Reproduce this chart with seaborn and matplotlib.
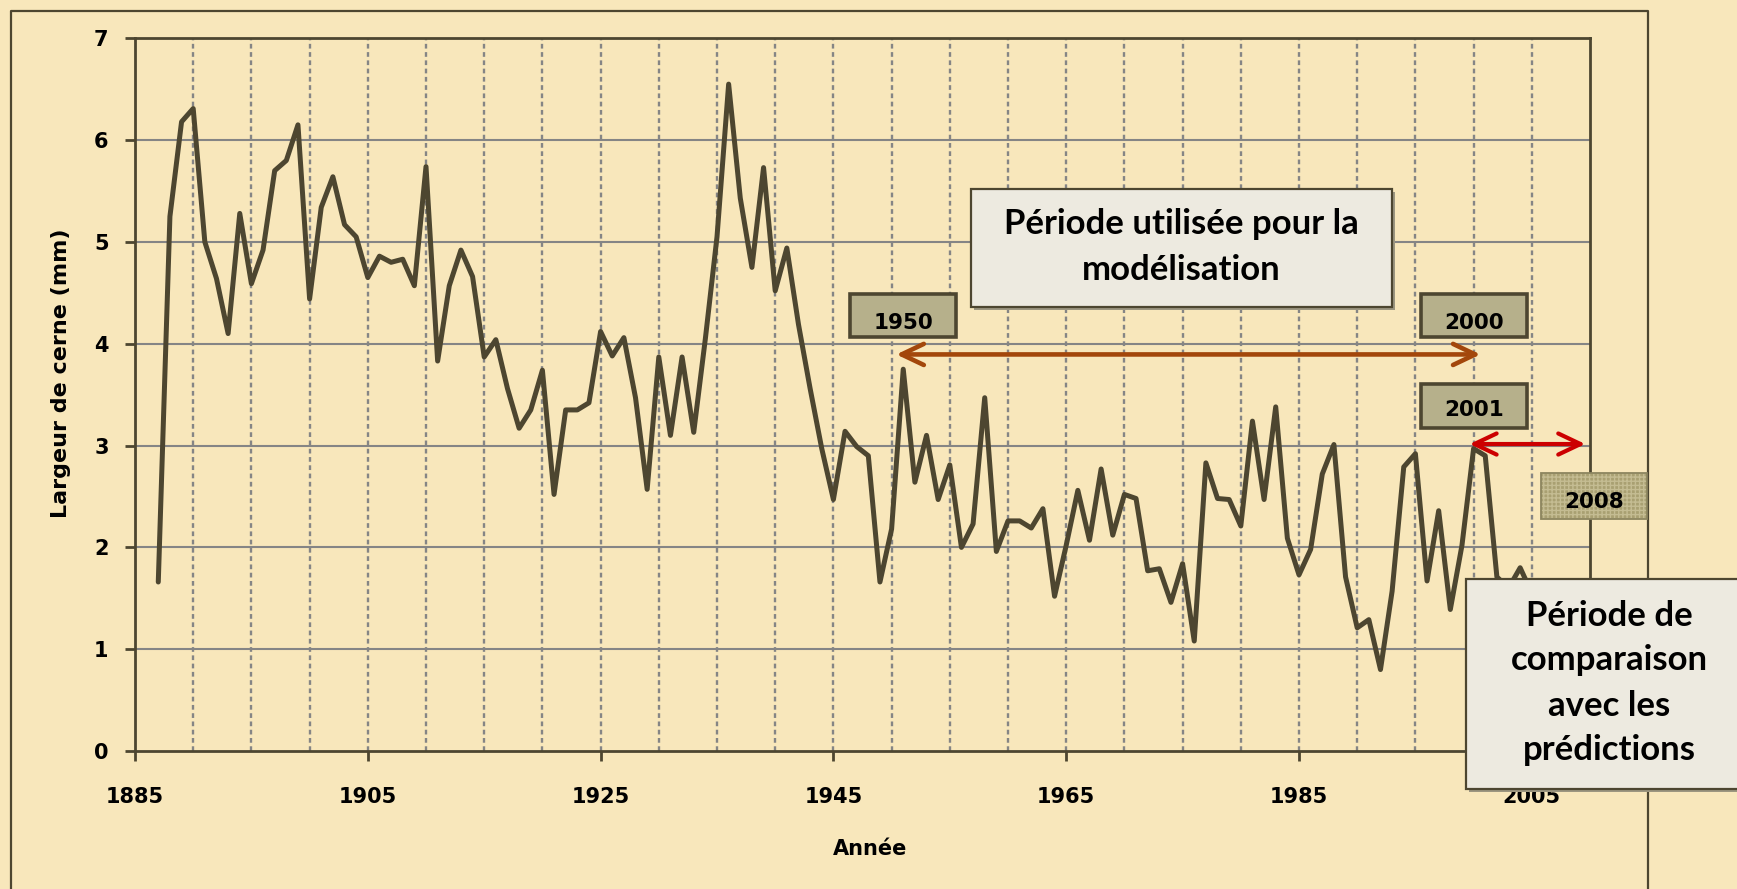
import numpy as np
import pandas as pd
import seaborn as sns
import matplotlib.pyplot as plt
from matplotlib import font_manager
from matplotlib.patches import Rectangle

# ring width series
years = list(range(1887, 2006))
largeur = [
    1.66, 5.25, 6.18, 6.31, 5.00, 4.64, 4.10, 5.28, 4.59, 4.92,   # 1887-1896
    5.70, 5.80, 6.15, 4.44, 5.34, 5.64, 5.17, 5.05, 4.65, 4.86,   # 1897-1906
    4.80, 4.83, 4.57, 5.74, 3.83, 4.57, 4.92, 4.66, 3.87, 4.04,   # 1907-1916
    3.56, 3.17, 3.35, 3.74, 2.52, 3.35, 3.35, 3.42, 4.12, 3.88,   # 1917-1926
    4.06, 3.47, 2.57, 3.87, 3.10, 3.87, 3.13, 4.05, 5.05, 6.55,   # 1927-1936
    5.43, 4.75, 5.73, 4.52, 4.94, 4.19, 3.56, 2.97, 2.47, 3.14,   # 1937-1946
    2.99, 2.90, 1.66, 2.18, 3.75, 2.64, 3.10, 2.47, 2.81, 2.00,   # 1947-1956
    2.23, 3.47, 1.96, 2.26, 2.26, 2.19, 2.38, 1.52, 2.02, 2.56,   # 1957-1966
    2.07, 2.77, 2.12, 2.52, 2.48, 1.77, 1.79, 1.46, 1.84, 1.08,   # 1967-1976
    2.83, 2.48, 2.47, 2.21, 3.24, 2.47, 3.38, 2.09, 1.73, 1.98,   # 1977-1986
    2.72, 3.01, 1.71, 1.21, 1.29, 0.80, 1.57, 2.79, 2.92, 1.67,   # 1987-1996
    2.36, 1.39, 2.02, 2.97, 2.90, 1.71, 1.60, 1.80, 1.55,         # 1997-2005
]

x_ticks = [1885, 1905, 1925, 1945, 1965, 1985, 2005]
x_grid = list(range(1890, 2010, 5))
y_ticks = list(range(0, 8))

# periods marked with arrows (start year, end year, level in mm)
periode_modele = (1950.4, 2000.6, 3.895)
periode_comparaison = (1999.65, 2009.6, 3.015)
etiquettes = ["1950", "2000", "2001", "2008"]
texte_modele = "Période utilisée pour la\nmodélisation"
texte_comparaison = "Période de\ncomparaison\navec les\nprédictions"

BG = "#F8E7BB"
OLIVE = "#4D4630"
GRID = "#858585"
KHAKI = "#B6B08B"
PALE = "#EDEAE0"

W, H = 1737, 889

def fx(x):
    return x / W

def fy(y):
    return 1 - y / H

sns.set_style("ticks")
names = {f.name for f in font_manager.fontManager.ttflist}
box_font = "Lato" if "Lato" in names else "DejaVu Sans"
plt.rcParams["font.family"] = ["DejaVu Sans"]
plt.rcParams["text.color"] = "black"

fig = plt.figure(figsize=(W / 100, H / 100), dpi=100, facecolor=BG)
ax = fig.add_axes([fx(135), fy(751), (1590 - 135) / W, (751 - 38.3) / H])
ax.set_facecolor(BG)

for y in y_ticks[1:-1]:
    ax.axhline(y, color=GRID, lw=1.5, zorder=1)
for x in x_grid:
    ax.axvline(x, color=GRID, lw=1.7, ls=(0, (2.0, 1.5)), zorder=1)

sns.lineplot(x=years, y=largeur, ax=ax, color=OLIVE, lw=3.6, zorder=3)

ax.set_xlim(1885, 2010)
ax.set_ylim(0, 7)
ax.set_xticks(x_ticks)
ax.set_yticks(y_ticks)
ax.set_xlabel("")
ax.set_ylabel("")
for s in ax.spines.values():
    s.set_color(OLIVE)
    s.set_linewidth(2.0)
ax.tick_params(axis="x", direction="out", length=7, width=2, color=OLIVE, pad=19)
ax.tick_params(axis="y", direction="out", length=7, width=2, color=OLIVE, pad=12)
for lab in ax.get_xticklabels() + ax.get_yticklabels():
    lab.set_fontsize(15)
    lab.set_fontweight("bold")
    lab.set_color("black")

fig.text(fx(61), fy(373), "Largeur de cerne (mm)", rotation=90, ha="center",
         va="center", fontsize=16, fontweight="bold", color="black")
fig.text(fx(870), fy(849), "Année", ha="center", va="center",
         fontsize=15, fontweight="bold", color="black")

# arrows
x0, x1, yv = periode_modele
ax.annotate("", xy=(x1, yv), xytext=(x0, yv), zorder=5,
            arrowprops=dict(arrowstyle="<->,head_length=0.8,head_width=0.38",
                            color="#A3470B", lw=3.3, shrinkA=0, shrinkB=0,
                            mutation_scale=20))
x0, x1, yv = periode_comparaison
ax.annotate("", xy=(x1, yv), xytext=(x0, yv), zorder=5,
            arrowprops=dict(arrowstyle="<->,head_length=0.8,head_width=0.38",
                            color="#CC0000", lw=3.0, shrinkA=0, shrinkB=0,
                            mutation_scale=20))


def rect(x0, y0, x1, y1, **kw):
    r = Rectangle((fx(x0), fy(y1)), (x1 - x0) / W, (y1 - y0) / H,
                  transform=fig.transFigure, **kw)
    fig.add_artist(r)
    return r


# outer chart border
fig.add_artist(plt.Line2D([fx(11), fx(11), fx(1648), fx(1648)],
                          [fy(900), fy(11), fy(11), fy(900)],
                          transform=fig.transFigure, color=OLIVE, lw=1.6))

# big text boxes
rect(974, 192, 1395, 310, facecolor="#9C9680", edgecolor="none", zorder=4)
rect(971, 189, 1392, 307, facecolor=PALE, edgecolor=OLIVE, lw=1.6, zorder=4)
fig.text(fx(1181.5), fy(247), texte_modele, ha="center", va="center",
         fontsize=25, fontweight="bold", family=box_font, linespacing=1.5,
         color="black", zorder=6)

rect(1469, 581.5, 1760, 791.7, facecolor="#9C9680", edgecolor="none", zorder=4)
rect(1466, 578.5, 1760, 788.7, facecolor=PALE, edgecolor=OLIVE, lw=1.6, zorder=4)
fig.text(fx(1609), fy(683), texte_comparaison, ha="center", va="center",
         fontsize=25, fontweight="bold", family=box_font, linespacing=1.5,
         color="black", zorder=6)

# year labels
small = [(850, 293.5, 956, 336.6, 323), (1420.7, 293.5, 1527.3, 336.6, 323),
         (1420.7, 383.5, 1527.3, 428, 410)]
for lab, (a, b, c, d, ty) in zip(etiquettes[:3], small):
    rect(a, b, c, d, facecolor=KHAKI, edgecolor=OLIVE, lw=2.6, zorder=4)
    fig.text(fx((a + c) / 2), fy(ty), lab, ha="center", va="center",
             fontsize=15.5, fontweight="bold", color="black", zorder=6)

rect(1541, 473.3, 1646.7, 519, facecolor="#A9A072", edgecolor="#C4BC92",
     lw=0, hatch="++++", zorder=4)
rect(1541, 473.3, 1646.7, 519, fill=False, edgecolor="#8C855F", lw=1.3, zorder=4)
fig.text(fx(1594), fy(502), etiquettes[3], ha="center", va="center",
         fontsize=15.5, fontweight="bold", color="black", zorder=6)

fig.savefig("out.png", dpi=100, facecolor=BG)
